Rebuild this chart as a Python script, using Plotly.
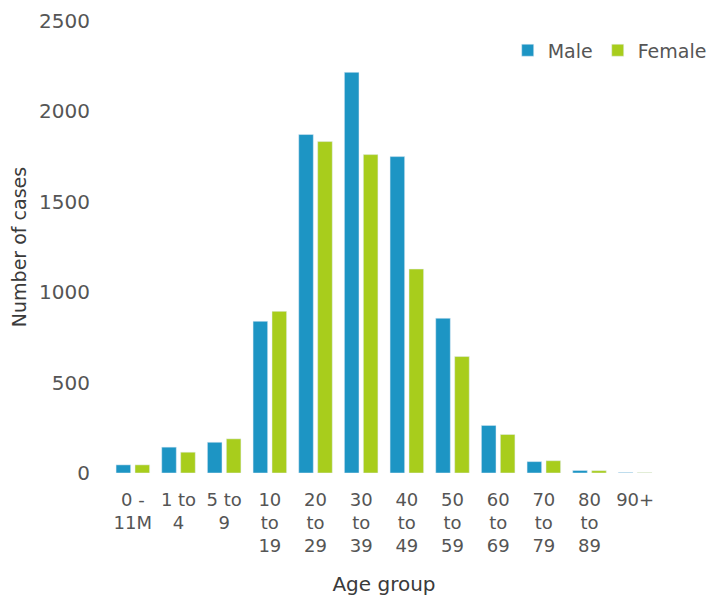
import plotly.graph_objects as go

age_groups = ["0 -<br>11M", "1 to<br>4", "5 to<br>9", "10<br>to<br>19", "20<br>to<br>29",
              "30<br>to<br>39", "40<br>to<br>49", "50<br>to<br>59", "60<br>to<br>69",
              "70<br>to<br>79", "80<br>to<br>89", "90+"]
male = [45, 143, 170, 839, 1872, 2216, 1750, 856, 263, 63, 14, 3]
female = [45, 115, 189, 894, 1833, 1761, 1128, 644, 213, 68, 13, 2]

blue = "#1d95c4"
green = "#a8cd1c"
font_family = "DejaVu Sans, sans-serif"
tick_color = "#555555"
title_color = "#3a3a3a"

fig = go.Figure()
fig.add_trace(go.Bar(name="Male", x=age_groups, y=male, marker_color=blue))
fig.add_trace(go.Bar(name="Female", x=age_groups, y=female, marker_color=green))

fig.update_layout(
    width=717, height=601,
    paper_bgcolor="white", plot_bgcolor="white",
    margin=dict(l=102, r=67, t=13, b=136),
    barmode="group", bargap=0.17, bargroupgap=0.23,
    font=dict(family=font_family, size=18, color=tick_color),
    showlegend=True,
    legend=dict(orientation="h", x=1.098, xanchor="right", y=0.935, yanchor="middle",
                font=dict(size=19, color=tick_color), itemwidth=30,
                bgcolor="rgba(0,0,0,0)"),
)
fig.update_xaxes(automargin=False, showgrid=False, showline=False, zeroline=False,
                 ticks="outside", ticklen=10, tickcolor="rgba(0,0,0,0)",
                 tickfont=dict(size=18, color=tick_color),
                 title=dict(text="Age group", font=dict(size=20, color=title_color), standoff=21))
fig.update_yaxes(automargin=False, range=[0, 2500], dtick=500, showgrid=False, showline=False,
                 zeroline=False, ticks="outside", ticklen=15, tickcolor="rgba(0,0,0,0)",
                 ticklabeloverflow="allow",
                 tickfont=dict(size=20, color=tick_color),
                 title=dict(text="Number of cases", font=dict(size=19, color=title_color), standoff=24))

fig.write_html("out.html")
